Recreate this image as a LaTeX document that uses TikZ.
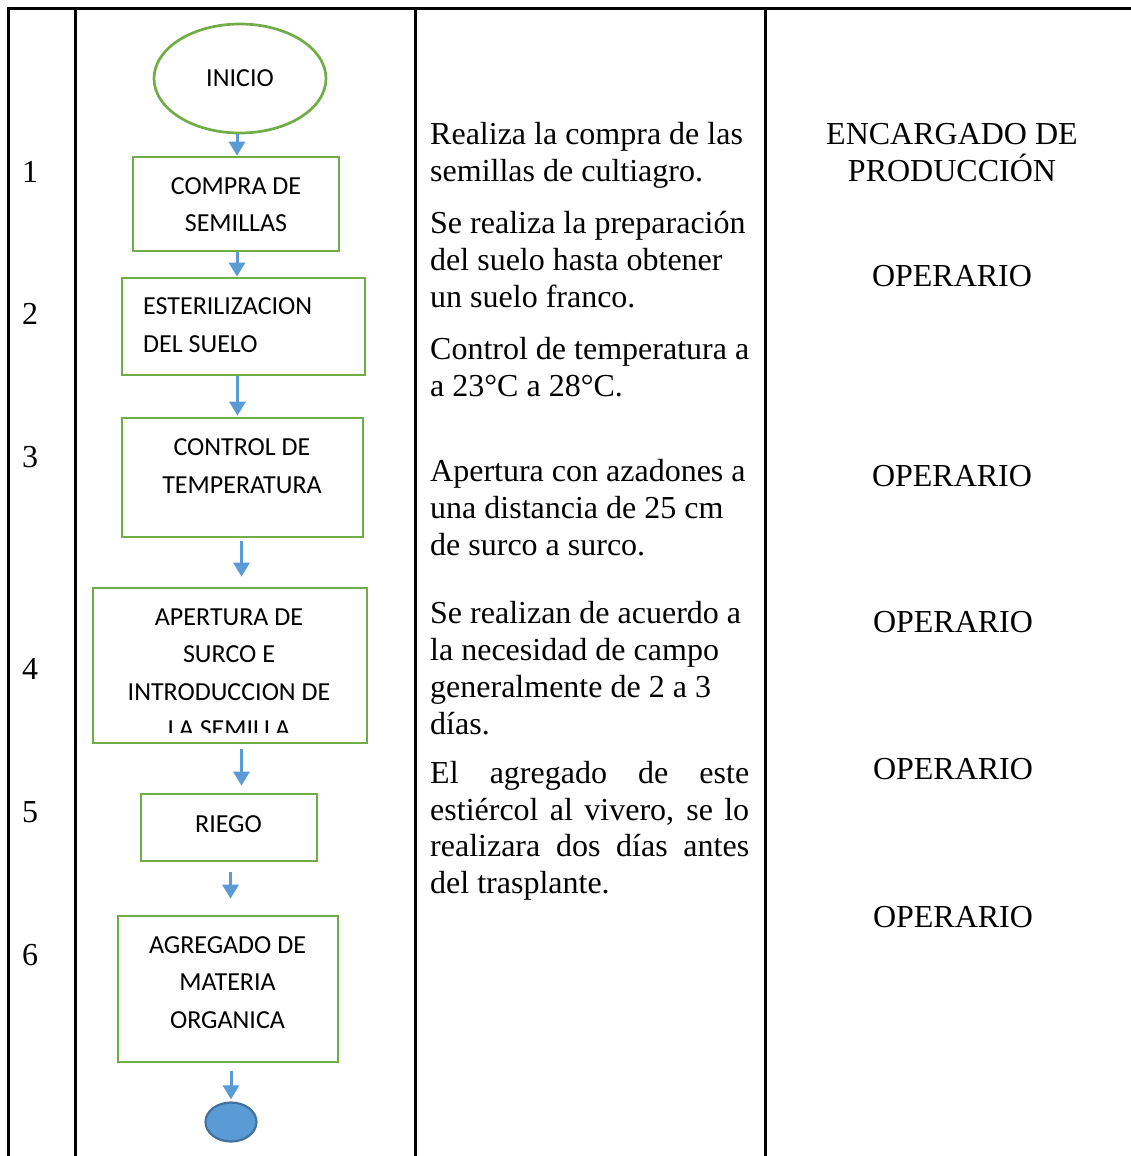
\documentclass[tikz,border=0pt]{standalone}
\usepackage{fontspec}
\setmainfont{Liberation Serif}
\newfontfamily\boxfamily{Carlito}
\usetikzlibrary{shapes.geometric,arrows.meta}
\definecolor{boxgreen}{HTML}{70AD47}
\definecolor{flowblue}{HTML}{5B9BD5}
\definecolor{endline}{HTML}{41719C}
\newcommand\colfont{\fontsize{32pt}{37pt}\selectfont}
\newcommand\boxfont{\boxfamily\fontsize{26pt}{37pt}\selectfont}
\tikzset{
  grid/.style={line width=3pt, black},
  stepbox/.style={draw=boxgreen, line width=2.7pt, rectangle, inner sep=0pt},
  lbl/.style={font=\boxfont, anchor=base, inner sep=0pt},
  lbll/.style={font=\boxfont, anchor=base west, inner sep=0pt},
  desc/.style={font=\colfont, anchor=base west, inner sep=0pt},
  who/.style={font=\colfont, anchor=base, inner sep=0pt},
  flow/.style={draw=flowblue, line width=3pt, -{Triangle[width=16pt,length=14pt]}},
}
\begin{document}
\begin{tikzpicture}[x=1pt,y=-1pt]
\useasboundingbox (0,0) rectangle (1131,1156);

% table rules
\draw[grid] (8,9) -- (1131,9);
\foreach \cx in {8,75,415,765} \draw[grid] (\cx,7.5) -- (\cx,1156);

% step numbers
\foreach \n/\by in {1/182,2/324,3/467,4/679,5/822,6/965}
  \node[who] at (30,\by) {\n};

% flowchart shapes
\node[ellipse, draw=boxgreen, line width=2.7pt, minimum width=172pt, minimum height=109pt,
      inner sep=0pt, font=\boxfont] (ini) at (240,78.5) {\raisebox{-1.5pt}{INICIO}};
\node[stepbox, minimum width=206pt, minimum height=94pt]  (b1) at (236,204) {};
\node[stepbox, minimum width=243pt, minimum height=97pt]  (b2) at (243.5,326.5) {};
\node[stepbox, minimum width=241pt, minimum height=119pt] (b3) at (242.5,477.5) {};
\node[stepbox, minimum width=274pt, minimum height=155pt] (b4) at (230,665.5) {};
\node[stepbox, minimum width=176pt, minimum height=67pt]  (b5) at (229,827.5) {};
\node[stepbox, minimum width=220pt, minimum height=146pt] (b6) at (228,989) {};
\node[ellipse, draw=endline, fill=flowblue, line width=2.2pt, minimum width=51pt,
      minimum height=39pt, inner sep=0pt] (fin) at (231,1122) {};

% box texts
\node[lbl] (t1a) at (236,194) {COMPRA DE};
\node[lbl] (t1b) at (236,231) {SEMILLAS};
\node[lbll] (t2a) at (143,314) {ESTERILIZACION};
\node[lbll] (t2b) at (143,352) {DEL SUELO};
\node[lbl] (t3a) at (242,455) {CONTROL DE};
\node[lbl] (t3b) at (242,493) {TEMPERATURA};
\node[lbl] (t4a) at (229,625) {APERTURA DE};
\node[lbl] (t4b) at (229,662) {SURCO E};
\node[lbl] (t4c) at (229,700) {INTRODUCCION DE};
\begin{scope}
  \clip (95,590) rectangle (365,732);
  \node[lbl] (t4d) at (229,737) {LA SEMILLA};
\end{scope}
\node[lbl] (t5a) at (228.5,832) {RIEGO};
\node[lbl] (t6a) at (227.5,953) {AGREGADO DE};
\node[lbl] (t6b) at (227.5,990) {MATERIA};
\node[lbl] (t6c) at (227.5,1028) {ORGANICA};

% connectors
\draw[flow] ([shift={(-3,0)}]ini.south) -- ([shift={(1,0)}]b1.north);
\draw[flow] ([shift={(1,0)}]b1.south) -- ([shift={(-6.5,0)}]b2.north);
\draw[flow] ([shift={(-6,0)}]b2.south) -- ([shift={(-5,-1)}]b3.north);
\draw[flow] ([shift={(-1,3)}]b3.south) -- ([shift={(11.5,-10)}]b4.north);
\draw[flow] ([shift={(11.5,5)}]b4.south) -- ([shift={(12.5,-7)}]b5.north);
\draw[flow] ([shift={(1.5,10)}]b5.south) -- ([shift={(2.5,-16)}]b6.north);
\draw[flow] ([shift={(3,8)}]b6.south) -- ([shift={(0,-2)}]fin.north);

% description column
\node[desc] (d1) at (430,144) {Realiza la compra de las};
\node[desc] (d2) at (430,181) {semillas de cultiagro.};
\node[desc] (d3) at (430,233) {Se realiza la preparación};
\node[desc] (d4) at (430,270) {del suelo hasta obtener};
\node[desc] (d5) at (430,307) {un suelo franco.};
\node[desc] (d6) at (430,359) {Control de temperatura a};
\node[desc] (d7) at (430,396) {a 23°C a 28°C.};
\node[desc] (d8) at (430,481) {Apertura con azadones a};
\node[desc] (d9) at (430,518) {una distancia de 25 cm};
\node[desc] (d10) at (430,555) {de surco a surco.};
\node[desc] (d11) at (430,623) {Se realizan de acuerdo a};
\node[desc] (d12) at (430,660) {la necesidad de campo};
\node[desc] (d13) at (430,697) {generalmente de 2 a 3};
\node[desc] (d14) at (430,734) {días.};
\node[desc] (d15) at (430,783) {\makebox[319pt][s]{El agregado de este}};
\node[desc] (d16) at (430,820) {\makebox[319pt][s]{estiércol al vivero, se lo}};
\node[desc] (d17) at (430,856) {\makebox[319pt][s]{realizara dos días antes}};
\node[desc] (d18) at (430,893) {del trasplante.};

% responsible column
\node[who] (r1a) at (952,144) {ENCARGADO DE};
\node[who] (r1b) at (952,181) {PRODUCCIÓN};
\node[who] (r2) at (952,286) {OPERARIO};
\node[who] (r3) at (952,486) {OPERARIO};
\node[who] (r4) at (953,632) {OPERARIO};
\node[who] (r5) at (953,779) {OPERARIO};
\node[who] (r6) at (953,927) {OPERARIO};
\end{tikzpicture}
\end{document}
